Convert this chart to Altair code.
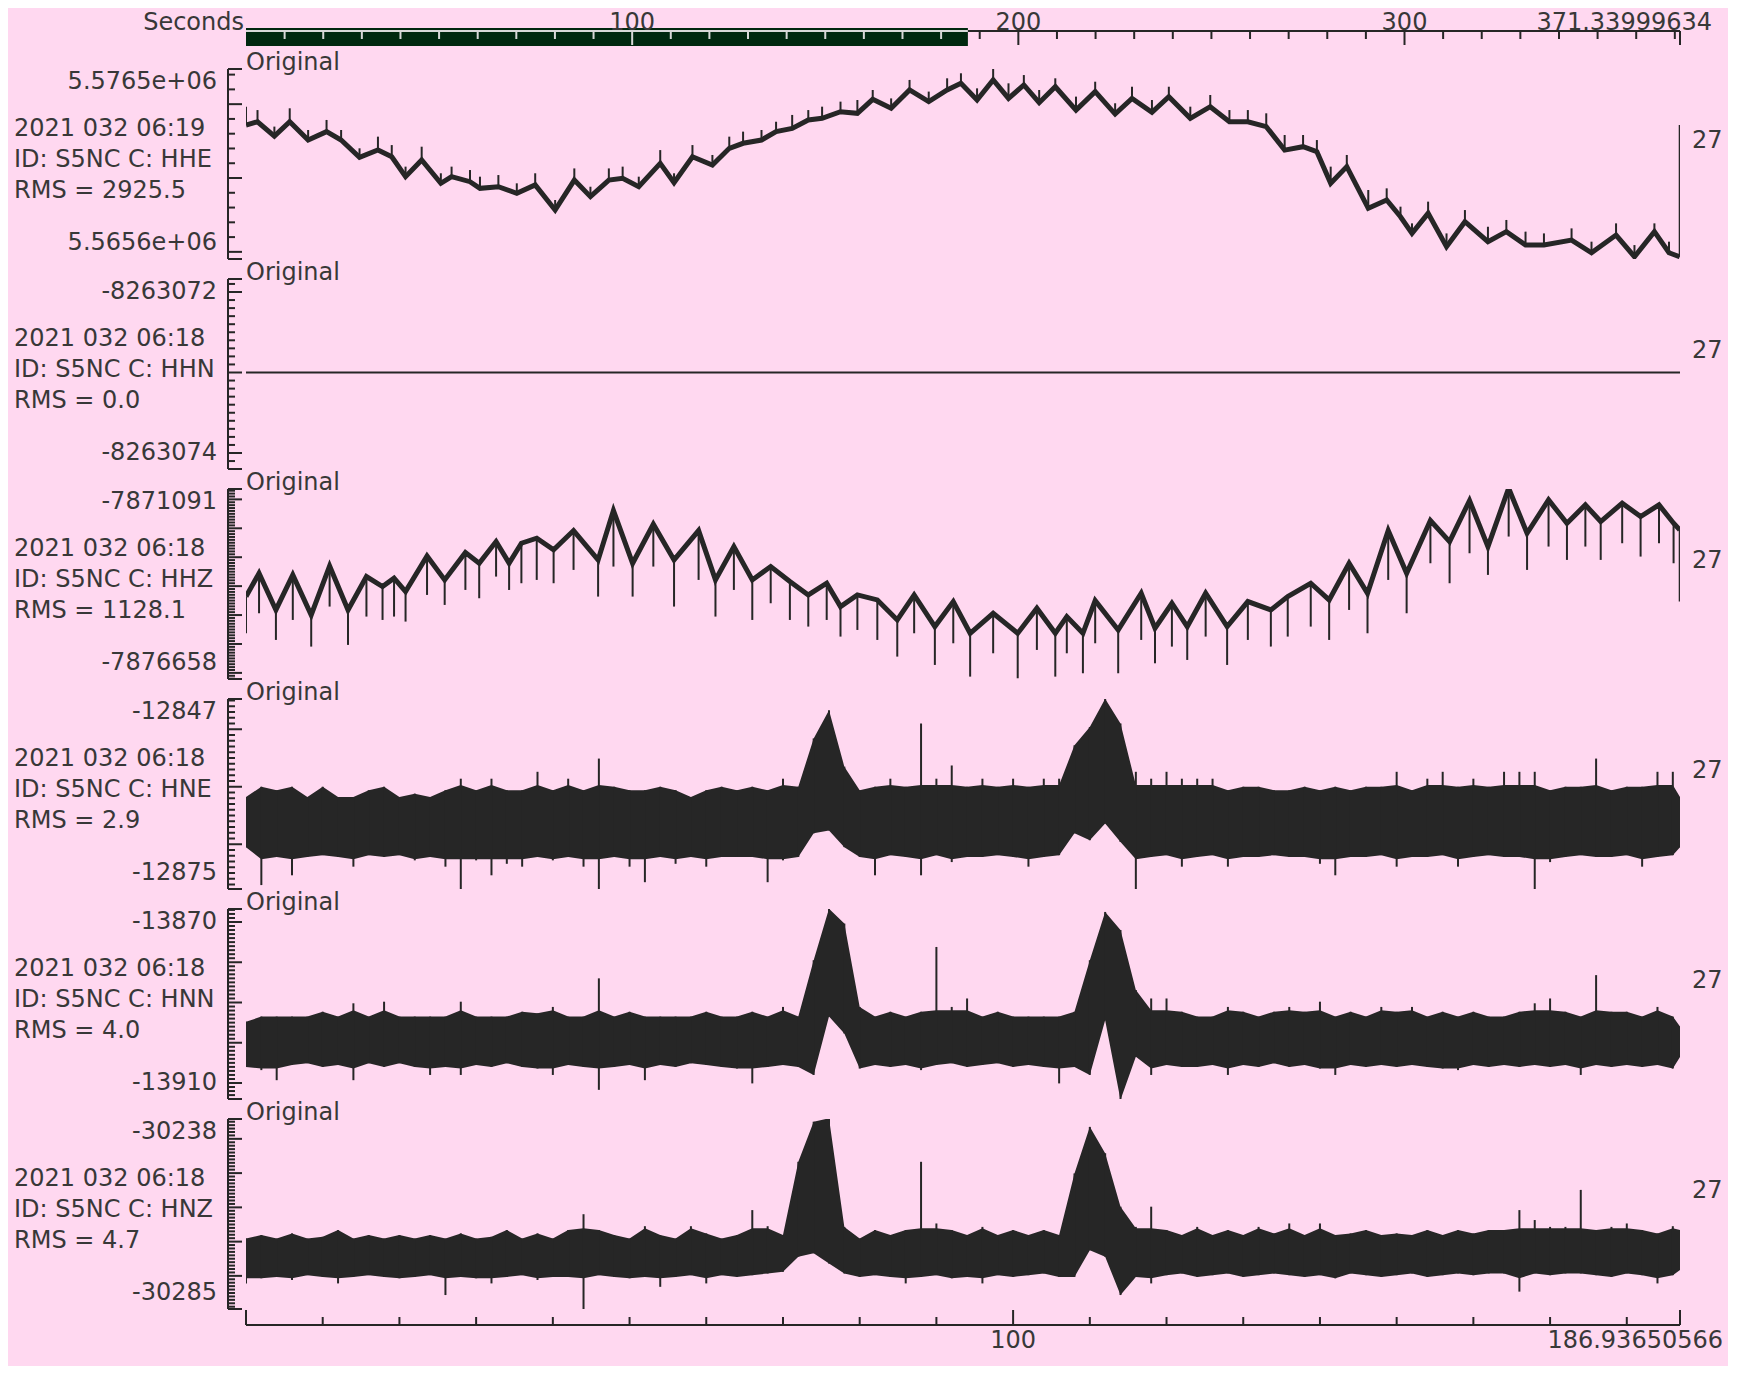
import altair as alt
import pandas as pd
import numpy as np

T_END = 186.93650566
OV_END = 371.33999634
PW, PH = 1434, 190

BG = "#FFD8F0"
INK = "#262626"
TXT = "#383838"
FONT = "DejaVu Sans"
FS = 24

# ---------------- panel metadata ----------------
CHANNELS = ["HHE", "HHN", "HHZ", "HNE", "HNN", "HNZ"]
STARTS = ["2021 032 06:19", "2021 032 06:18", "2021 032 06:18",
          "2021 032 06:18", "2021 032 06:18", "2021 032 06:18"]
RMS = ["2925.5", "0.0", "1128.1", "2.9", "4.0", "4.7"]
LABEL_TOP = ["5.5765e+06", "-8263072", "-7871091", "-12847", "-13870", "-30238"]
LABEL_TOP_V = [5576500, -8263072, -7871091, -12847, -13870, -30238]
LABEL_BOT = ["5.5656e+06", "-8263074", "-7876658", "-12875", "-13910", "-30285"]
LABEL_BOT_V = [5565600, -8263074, -7876658, -12875, -13910, -30285]
TICK_MINOR = [1000, 0.1, 100, 1, 1, 1]
TICK_MAJOR = [5000, 1, 1000, 10, 10, 10]
SCALE_NUM = ["27", "27", "27", "27", "27", "27"]

# ---------------- HHE ----------------
hhe_t = [0.0, 1.5, 3.7, 5.7, 8.1, 10.5, 12.4, 14.8, 17.2, 19.0,
         20.8, 22.9, 25.4, 26.8, 29.2, 30.5, 32.9, 35.3, 37.7, 40.3,
         42.8, 44.9, 47.3, 49.1, 51.2, 54.0, 55.8, 58.2, 60.8, 63.0,
         64.8, 67.2, 69.1, 71.2, 73.3, 75.1, 77.5, 79.7, 81.7, 84.1,
         86.5, 89.0, 91.4, 93.2, 95.3, 97.4, 99.4, 101.4, 103.4, 105.5,
         108.2, 110.7, 113.3, 115.5, 118.1, 120.3, 123.1, 125.7, 128.2, 130.6,
         133.0, 135.4, 137.8, 139.6, 141.4, 143.5, 146.3, 148.7, 150.5, 152.0,
         154.1, 156.5, 158.9, 161.9, 164.3, 166.8, 169.2, 172.8, 175.4, 178.6,
         181.0, 183.6, 185.5, 186.9]
hhe_base = [5573590, 5573810, 5572840, 5573810, 5572570, 5573140, 5572570, 5571400, 5571900, 5571440,
            5570090, 5571220, 5569640, 5570090, 5569750, 5569300, 5569410, 5568960, 5569530, 5567830,
            5569860, 5568740, 5569860, 5569980, 5569410, 5570990, 5569680, 5571440, 5570880, 5572010,
            5572350, 5572570, 5573140, 5573360, 5573930, 5574040, 5574490, 5574380, 5575330, 5574720,
            5575960, 5575170, 5575960, 5576410, 5575280, 5576640, 5575390, 5576300, 5575100, 5576180,
            5574600, 5575850, 5574330, 5575390, 5574450, 5575510, 5574040, 5574830, 5573810, 5573810,
            5573480, 5571890, 5572120, 5571780, 5569640, 5570770, 5567950, 5568510, 5567380, 5566250,
            5567610, 5565350, 5567040, 5565690, 5566370, 5565460, 5565460, 5565800, 5564940, 5566140,
            5564670, 5566370, 5564940, 5564670]
hhe_top = [5574830, 5574600, 5573480, 5574720, 5573250, 5573930, 5573250, 5572010, 5572800, 5572230,
           5570770, 5572120, 5570320, 5570770, 5570540, 5570090, 5570200, 5569640, 5570320, 5568510,
           5570650, 5569410, 5570650, 5570770, 5570090, 5571890, 5570320, 5572230, 5571560, 5572800,
           5573140, 5573250, 5573810, 5574270, 5574600, 5574830, 5575170, 5575280, 5575960, 5575390,
           5576640, 5575850, 5576750, 5577090, 5576070, 5577430, 5576410, 5576970, 5575960, 5576750,
           5575510, 5576520, 5575060, 5576180, 5575280, 5576180, 5574830, 5575620, 5574600, 5574600,
           5574380, 5572910, 5572910, 5572570, 5570770, 5571560, 5569190, 5569300, 5568060, 5566930,
           5568400, 5566250, 5567830, 5566700, 5567160, 5566370, 5566250, 5566590, 5565690, 5566930,
           5565460, 5566930, 5565690, 5573590]

# ---------------- HHN ----------------
hhn_t = [0.0, 186.94]
hhn_v = [-8263073, -8263073]

# ---------------- HHZ ----------------
hhz_t = [0.0, 1.7, 3.9, 6.1, 8.5, 10.9, 13.3, 15.7, 17.8, 19.3,
         20.8, 23.6, 25.9, 28.6, 30.4, 32.6, 34.3, 35.9, 37.9, 40.1,
         42.7, 45.9, 47.9, 50.4, 53.1, 55.8, 59.0, 61.2, 63.6, 66.0,
         68.4, 70.9, 73.3, 75.7, 77.5, 79.7, 82.3, 84.9, 87.1, 89.8,
         92.2, 94.4, 97.4, 100.6, 103.1, 105.5, 107.0, 109.1, 110.7, 113.7,
         116.7, 118.5, 120.7, 122.7, 125.1, 127.9, 130.6, 133.6, 135.8, 138.8,
         141.2, 143.8, 146.2, 148.9, 151.3, 154.4, 156.9, 159.5, 161.9, 164.6,
         167.0, 169.8, 172.2, 174.6, 176.6, 179.4, 181.8, 184.2, 186.1, 186.9]
hhz_ridge = [-7874362, -7873554, -7874823, -7873612, -7874996, -7873301, -7874823, -7873670, -7874016, -7873727,
             -7874189, -7872955, -7873785, -7872840, -7873209, -7872459, -7873209, -7872517, -7872344, -7872747,
             -7872079, -7873093, -7871387, -7873209, -7871860, -7873093, -7872079, -7873785, -7872632, -7873785,
             -7873324, -7873843, -7874304, -7873900, -7874707, -7874304, -7874477, -7875169, -7874304, -7875399,
             -7874534, -7875630, -7874938, -7875630, -7874765, -7875630, -7875053, -7875630, -7874500, -7875515,
             -7874246, -7875457, -7874592, -7875399, -7874246, -7875399, -7874534, -7874823, -7874362, -7873900,
             -7874477, -7873209, -7874246, -7872079, -7873554, -7871733, -7872459, -7871041, -7872632, -7870614,
             -7872171, -7871018, -7871825, -7871191, -7871767, -7871133, -7871594, -7871191, -7871825, -7872056]
hhz_low = [-7875630, -7874938, -7875860, -7875169, -7876091, -7874707, -7876033, -7875053, -7875169, -7875053,
           -7875226, -7874304, -7874650, -7874131, -7874419, -7873670, -7874131, -7873900, -7873785, -7873900,
           -7873439, -7874362, -7873324, -7874362, -7873324, -7874707, -7873785, -7875053, -7874131, -7875169,
           -7874592, -7875169, -7875399, -7875169, -7875745, -7875515, -7875860, -7876437, -7875630, -7876725,
           -7875976, -7877129, -7876322, -7877186, -7876206, -7877129, -7876322, -7877013, -7875976, -7877013,
           -7875860, -7876668, -7876091, -7876552, -7875745, -7876725, -7875860, -7876091, -7875745, -7875399,
           -7875860, -7874823, -7875630, -7873785, -7874938, -7873209, -7873900, -7872863, -7873612, -7872286,
           -7873439, -7872632, -7873093, -7872632, -7873093, -7872517, -7872978, -7872517, -7873209, -7874534]

# ---------------- strong-motion channels (2 s envelope) ----------------
noise_t = [0, 2, 4, 6, 8, 10, 12, 14, 16, 18,
           20, 22, 24, 26, 28, 30, 32, 34, 36, 38,
           40, 42, 44, 46, 48, 50, 52, 54, 56, 58,
           60, 62, 64, 66, 68, 70, 72, 74, 76, 78,
           80, 82, 84, 86, 88, 90, 92, 94, 96, 98,
           100, 102, 104, 106, 108, 110, 112, 114, 116, 118,
           120, 122, 124, 126, 128, 130, 132, 134, 136, 138,
           140, 142, 144, 146, 148, 150, 152, 154, 156, 158,
           160, 162, 164, 166, 168, 170, 172, 174, 176, 178,
           180, 182, 184, 186, 186.94]

# max / min in each 2 s window
hne_hi = [-12861.8, -12860.0, -12860.6, -12860.0, -12861.8, -12860.0, -12861.8, -12861.8, -12860.6, -12860.0,
          -12861.8, -12861.2, -12861.8, -12860.6, -12858.6, -12860.6, -12858.6, -12860.6, -12860.6, -12857.4,
          -12860.6, -12858.6, -12860.6, -12855.1, -12860.0, -12860.6, -12860.6, -12860.0, -12860.6, -12861.8,
          -12860.6, -12860.0, -12860.6, -12860.0, -12860.6, -12858.6, -12860.0, -12851.6, -12846.7, -12856.5,
          -12860.6, -12860.0, -12858.6, -12860.0, -12849.0, -12858.6, -12856.3, -12860.0, -12858.6, -12860.0,
          -12858.6, -12860.0, -12858.6, -12858.6, -12852.8, -12849.6, -12844.7, -12849.0, -12857.4, -12858.6,
          -12857.4, -12858.6, -12858.6, -12858.6, -12860.6, -12860.0, -12860.0, -12860.6, -12860.6, -12860.0,
          -12860.6, -12860.0, -12860.6, -12860.0, -12860.0, -12857.4, -12860.6, -12858.6, -12857.4, -12860.0,
          -12858.6, -12860.0, -12857.4, -12857.4, -12857.4, -12860.6, -12860.0, -12860.0, -12855.1, -12860.6,
          -12860.0, -12860.0, -12857.4, -12857.4, -12861.8]
hne_lo = [-12870.5, -12877.1, -12872.2, -12875.4, -12872.2, -12871.9, -12872.2, -12873.9, -12871.9, -12872.2,
          -12871.9, -12872.8, -12872.2, -12873.9, -12878.0, -12872.8, -12875.4, -12873.4, -12873.9, -12872.2,
          -12872.8, -12872.2, -12873.9, -12878.0, -12872.2, -12873.9, -12876.6, -12872.2, -12873.4, -12872.2,
          -12873.9, -12872.2, -12872.2, -12872.2, -12876.6, -12872.8, -12872.2, -12868.1, -12867.6, -12870.5,
          -12872.2, -12875.4, -12871.9, -12872.2, -12875.4, -12871.9, -12873.1, -12872.2, -12872.2, -12871.9,
          -12872.2, -12873.9, -12872.2, -12871.9, -12868.1, -12869.3, -12866.4, -12869.6, -12878.0, -12872.2,
          -12871.9, -12873.9, -12872.2, -12871.9, -12873.9, -12872.2, -12872.2, -12871.9, -12872.2, -12872.2,
          -12873.4, -12875.4, -12872.2, -12872.2, -12871.9, -12873.9, -12872.2, -12872.2, -12871.9, -12873.9,
          -12872.2, -12871.9, -12872.2, -12872.2, -12878.0, -12873.1, -12872.2, -12871.9, -12872.2, -12872.2,
          -12871.9, -12873.9, -12872.2, -12871.9, -12870.5]
hne_events = [37, 38, 39, 54, 55, 56, 57]
hne_cap = [-12859.7, -12872.6]      # edge of the dense body outside the events

hnn_hi = [-13894.8, -13893.5, -13893.5, -13893.5, -13893.5, -13892.3, -13893.5, -13890.2, -13893.5, -13889.8,
          -13893.5, -13893.5, -13893.5, -13893.5, -13889.8, -13893.5, -13893.5, -13893.5, -13892.3, -13892.7,
          -13891.1, -13893.5, -13893.5, -13884.0, -13893.5, -13892.3, -13893.5, -13893.5, -13893.5, -13893.5,
          -13892.3, -13893.5, -13893.5, -13892.3, -13893.5, -13891.1, -13893.5, -13879.5, -13866.7, -13870.4,
          -13891.1, -13893.5, -13892.3, -13893.5, -13892.3, -13876.2, -13891.1, -13889.0, -13893.5, -13892.3,
          -13893.5, -13893.5, -13893.5, -13893.5, -13892.3, -13879.5, -13867.5, -13872.0, -13886.9, -13889.0,
          -13889.0, -13892.3, -13893.5, -13893.5, -13891.1, -13892.3, -13893.5, -13892.3, -13891.1, -13892.3,
          -13889.8, -13893.5, -13892.3, -13893.5, -13891.1, -13892.3, -13891.1, -13893.5, -13892.3, -13893.5,
          -13892.3, -13893.5, -13893.5, -13892.3, -13890.2, -13889.0, -13892.3, -13893.5, -13883.2, -13892.3,
          -13892.3, -13893.5, -13891.1, -13893.5, -13896.0]
hnn_lo = [-13906.0, -13906.8, -13909.3, -13905.5, -13905.1, -13906.0, -13905.5, -13909.3, -13905.1, -13906.0,
          -13905.1, -13906.0, -13908.0, -13906.0, -13908.0, -13905.5, -13906.0, -13905.1, -13906.0, -13906.4,
          -13908.0, -13905.5, -13906.0, -13911.7, -13906.0, -13905.5, -13909.3, -13905.5, -13906.0, -13905.1,
          -13905.5, -13906.0, -13906.4, -13910.1, -13906.0, -13905.5, -13906.0, -13908.0, -13893.5, -13897.7,
          -13906.4, -13905.5, -13906.0, -13905.5, -13906.8, -13905.5, -13905.1, -13906.0, -13905.5, -13905.1,
          -13906.0, -13905.5, -13906.0, -13910.1, -13906.0, -13908.0, -13894.4, -13914.2, -13903.5, -13908.0,
          -13905.5, -13906.0, -13906.0, -13905.5, -13908.0, -13905.5, -13906.0, -13905.1, -13906.0, -13905.5,
          -13906.4, -13908.0, -13905.5, -13906.0, -13905.5, -13906.0, -13905.5, -13906.0, -13906.4, -13906.8,
          -13905.5, -13906.0, -13905.5, -13906.0, -13905.5, -13906.0, -13905.5, -13908.0, -13905.5, -13906.0,
          -13905.5, -13906.0, -13905.5, -13906.4, -13903.5]
hnn_events = [37, 38, 39, 40, 55, 56, 57, 58]
hnn_cap = [-13891.9, -13906.4]

hnz_hi = [-30269.1, -30268.1, -30269.1, -30267.6, -30269.1, -30268.6, -30266.6, -30269.1, -30268.1, -30269.1,
          -30268.1, -30269.1, -30268.1, -30269.1, -30267.6, -30269.1, -30268.6, -30266.6, -30269.1, -30267.6,
          -30269.1, -30266.6, -30262.0, -30266.6, -30268.1, -30269.1, -30265.5, -30268.1, -30269.1, -30265.5,
          -30267.6, -30269.1, -30268.1, -30260.8, -30265.5, -30268.1, -30246.7, -30235.0, -30234.0, -30265.7,
          -30269.1, -30266.6, -30268.1, -30266.6, -30246.7, -30264.7, -30266.6, -30268.1, -30265.7, -30268.1,
          -30266.6, -30268.1, -30266.6, -30268.1, -30250.1, -30236.5, -30244.2, -30259.8, -30265.7, -30259.8,
          -30266.6, -30268.1, -30265.7, -30268.1, -30266.6, -30268.1, -30265.7, -30267.6, -30264.7, -30268.1,
          -30264.7, -30268.1, -30267.6, -30266.6, -30268.1, -30267.6, -30268.1, -30266.6, -30268.1, -30266.6,
          -30267.6, -30266.6, -30266.6, -30260.8, -30263.7, -30265.7, -30265.7, -30254.9, -30266.6, -30265.7,
          -30264.7, -30266.6, -30267.6, -30265.5, -30266.6]
hnz_lo = [-30282.2, -30280.7, -30280.3, -30281.2, -30279.8, -30280.3, -30282.2, -30280.3, -30279.8, -30280.3,
          -30280.7, -30280.3, -30279.8, -30285.6, -30280.3, -30280.7, -30282.2, -30280.3, -30279.8, -30281.2,
          -30280.3, -30280.3, -30290.0, -30279.8, -30280.3, -30280.7, -30280.3, -30283.2, -30280.3, -30279.8,
          -30282.2, -30279.8, -30280.3, -30279.8, -30279.3, -30278.8, -30274.4, -30273.4, -30276.4, -30279.3,
          -30280.3, -30279.8, -30280.3, -30282.2, -30280.3, -30279.8, -30280.7, -30280.3, -30282.2, -30279.8,
          -30280.3, -30279.8, -30279.3, -30280.3, -30280.3, -30272.5, -30274.4, -30285.6, -30280.3, -30282.2,
          -30279.8, -30279.3, -30280.3, -30279.8, -30279.3, -30280.3, -30279.8, -30279.3, -30279.8, -30280.3,
          -30279.8, -30280.7, -30279.3, -30279.8, -30280.3, -30279.8, -30279.3, -30280.3, -30279.8, -30279.3,
          -30279.8, -30279.3, -30279.3, -30284.6, -30279.3, -30279.8, -30279.3, -30279.3, -30279.8, -30280.3,
          -30279.3, -30279.8, -30282.2, -30279.8, -30278.3]
hnz_events = [36, 37, 38, 39, 54, 55, 56, 57]
hnz_cap = [-30266.1, -30280.7]

# ---------------- time axes ----------------
ov_minor = [10, 20, 30, 40, 50, 60, 70, 80, 90, 110, 120, 130, 140, 150, 160, 170, 180, 190,
            210, 220, 230, 240, 250, 260, 270, 280, 290, 310, 320, 330, 340, 350, 360, 370]
ov_major = [100, 200, 300, OV_END]
ov_labels = ["100", "200", "300"]
bot_minor = [10, 20, 30, 40, 50, 60, 70, 80, 90, 110, 120, 130, 140, 150, 160, 170, 180]
bot_major = [0, 100, T_END]

ONE = pd.DataFrame({"k": [0]})
LAB_Y = -46


def txt(text, x, y, align="left", baseline="alphabetic"):
    return alt.Chart(ONE).mark_text(
        text=text, font=FONT, fontSize=FS, color=TXT, align=align, baseline=baseline
    ).encode(x=alt.value(x), y=alt.value(y))


def make_panel(i, trace_fn, extra=None, independent=False):
    L1, L2 = LABEL_TOP_V[i], LABEL_BOT_V[i]
    k = 161.0 / (L1 - L2)
    hi = L1 + 13.0 / k
    lo = L2 - 16.0 / k
    ysc = alt.Scale(domain=[lo, hi], nice=False, zero=False)
    xsc = alt.Scale(domain=[0, T_END], nice=False, zero=False)

    layers = []
    layers.append(alt.Chart(ONE).mark_rule(color=INK, strokeWidth=2).encode(
        x=alt.value(-18), y=alt.value(0), y2=alt.value(PH)))
    mn, mj = TICK_MINOR[i], TICK_MAJOR[i]
    start = np.ceil(lo / mn) * mn
    vals = np.arange(start, hi, mn)
    is_major = np.abs(vals / mj - np.round(vals / mj)) < 1e-6
    tdf = pd.DataFrame({"v": vals, "m": is_major})
    cap = pd.DataFrame({"v": [lo, hi]})
    layers.append(alt.Chart(tdf[~tdf.m]).mark_rule(color=INK, strokeWidth=2).encode(
        y=alt.Y("v:Q", scale=ysc, axis=None), x=alt.value(-18), x2=alt.value(-11)))
    layers.append(alt.Chart(pd.concat([tdf[tdf.m][["v"]], cap])).mark_rule(color=INK, strokeWidth=2).encode(
        y=alt.Y("v:Q", scale=ysc, axis=None), x=alt.value(-18), x2=alt.value(-4)))
    lab = pd.DataFrame({"v": [L1, L2], "label": [LABEL_TOP[i], LABEL_BOT[i]]})
    layers.append(alt.Chart(lab).mark_text(
        font=FONT, fontSize=FS, color=TXT, align="right", baseline="middle").encode(
        y=alt.Y("v:Q", scale=ysc, axis=None), x=alt.value(-29), text="label:N"))
    layers.append(txt("Original", 0, 1))
    layers.append(txt(STARTS[i], -232, 67))
    layers.append(txt("ID: S5NC C: " + CHANNELS[i], -232, 98))
    layers.append(txt("RMS = " + RMS[i], -232, 129))
    layers.append(txt(SCALE_NUM[i], PW + 12, 72, baseline="middle"))
    layers += trace_fn(xsc, ysc)
    if extra is not None:
        layers += extra()
    ch = alt.layer(*layers).properties(width=PW, height=PH)
    if independent:
        ch = ch.resolve_scale(x="independent")
    return ch


def X(xsc):
    return alt.X("t:Q", scale=xsc, axis=None)


def hhe_trace(xsc, ysc):
    df = pd.DataFrame({"t": hhe_t, "base": hhe_base, "top": hhe_top})
    line = alt.Chart(df).mark_line(color=INK, strokeWidth=5, clip=True).encode(
        x=X(xsc), y=alt.Y("base:Q", scale=ysc, axis=None))
    sp = alt.Chart(df).mark_rule(color=INK, strokeWidth=2, clip=True).encode(
        x=X(xsc), y=alt.Y("base:Q", scale=ysc, axis=None), y2="top:Q")
    return [line, sp]


def hhn_trace(xsc, ysc):
    df = pd.DataFrame({"t": hhn_t, "v": hhn_v})
    return [alt.Chart(df).mark_line(color=INK, strokeWidth=2, clip=True).encode(
        x=X(xsc), y=alt.Y("v:Q", scale=ysc, axis=None))]


def hhz_trace(xsc, ysc):
    df = pd.DataFrame({"t": hhz_t, "ridge": hhz_ridge, "low": hhz_low})
    line = alt.Chart(df).mark_line(color=INK, strokeWidth=5, clip=True).encode(
        x=X(xsc), y=alt.Y("ridge:Q", scale=ysc, axis=None))
    sp = alt.Chart(df).mark_rule(color=INK, strokeWidth=2, clip=True).encode(
        x=X(xsc), y=alt.Y("ridge:Q", scale=ysc, axis=None), y2="low:Q")
    return [line, sp]


def band_trace(hi, lo, events, caps):
    def fn(xsc, ysc):
        df = pd.DataFrame({"t": noise_t, "hi": hi, "lo": lo})
        ev = np.zeros(len(df), dtype=bool)
        ev[events] = True
        # dense body: the window extremes, with isolated hairline spikes left to the rules
        df["chi"] = np.where(ev, df["hi"], np.minimum(df["hi"], caps[0]))
        df["clo"] = np.where(ev, df["lo"], np.maximum(df["lo"], caps[1]))
        core = alt.Chart(df).mark_area(color=INK, opacity=1, clip=True).encode(
            x=X(xsc), y=alt.Y("clo:Q", scale=ysc, axis=None), y2="chi:Q")
        sp = alt.Chart(df).mark_rule(color=INK, strokeWidth=2, clip=True).encode(
            x=X(xsc), y=alt.Y("lo:Q", scale=ysc, axis=None), y2="hi:Q")
        return [core, sp]
    return fn


def overview():
    osc = alt.Scale(domain=[0, OV_END], nice=False, zero=False)
    win = pd.DataFrame({"s": [0.0], "e": [T_END]})
    L = []
    L.append(alt.Chart(ONE).mark_rule(color=INK, strokeWidth=2).encode(
        x=alt.value(0), x2=alt.value(PW), y=alt.value(-38)))
    L.append(alt.Chart(win).mark_rect(color="#00280F").encode(
        x=alt.X("s:Q", scale=osc, axis=None), x2="e:Q", y=alt.value(-41), y2=alt.value(-23)))
    L.append(alt.Chart(win).mark_rule(color="#D8D8D8", strokeWidth=2).encode(
        x=alt.X("s:Q", scale=osc, axis=None), x2="e:Q", y=alt.value(-38)))
    mdf = pd.DataFrame({"v": ov_minor})
    Mdf = pd.DataFrame({"v": ov_major})
    for df, y2 in ((mdf, -30), (Mdf, -24)):
        inside = df[df.v <= T_END]
        outside = df[df.v > T_END]
        if len(inside):
            L.append(alt.Chart(inside).mark_rule(color="#D8D8D8", strokeWidth=2).encode(
                x=alt.X("v:Q", scale=osc, axis=None), y=alt.value(-38), y2=alt.value(y2)))
        if len(outside):
            L.append(alt.Chart(outside).mark_rule(color=INK, strokeWidth=2).encode(
                x=alt.X("v:Q", scale=osc, axis=None), y=alt.value(-38), y2=alt.value(y2)))
    ldf = pd.DataFrame({"v": ov_major[:3], "label": ov_labels})
    L.append(alt.Chart(ldf).mark_text(font=FONT, fontSize=FS, color=TXT, align="center",
                                       baseline="middle").encode(
        x=alt.X("v:Q", scale=osc, axis=None), y=alt.value(LAB_Y), text="label:N"))
    edf = pd.DataFrame({"v": [OV_END], "label": ["371.33999634"]})
    L.append(alt.Chart(edf).mark_text(font=FONT, fontSize=FS, color=TXT, align="right",
                                       baseline="middle", dx=32).encode(
        x=alt.X("v:Q", scale=osc, axis=None), y=alt.value(LAB_Y), text="label:N"))
    L.append(txt("Seconds", -2, LAB_Y, align="right", baseline="middle"))
    return L


def bottom_axis():
    bsc = alt.Scale(domain=[0, T_END], nice=False, zero=False)
    L = []
    L.append(alt.Chart(ONE).mark_rule(color=INK, strokeWidth=2).encode(
        x=alt.value(0), x2=alt.value(PW), y=alt.value(206)))
    L.append(alt.Chart(pd.DataFrame({"v": bot_minor})).mark_rule(color=INK, strokeWidth=2).encode(
        x=alt.X("v:Q", scale=bsc, axis=None), y=alt.value(198), y2=alt.value(206)))
    L.append(alt.Chart(pd.DataFrame({"v": bot_major})).mark_rule(color=INK, strokeWidth=2).encode(
        x=alt.X("v:Q", scale=bsc, axis=None), y=alt.value(191), y2=alt.value(206)))
    L.append(alt.Chart(pd.DataFrame({"v": [100], "label": ["100"]})).mark_text(
        font=FONT, fontSize=FS, color=TXT, align="center", baseline="middle").encode(
        x=alt.X("v:Q", scale=bsc, axis=None), y=alt.value(222), text="label:N"))
    L.append(alt.Chart(pd.DataFrame({"v": [T_END], "label": ["186.93650566"]})).mark_text(
        font=FONT, fontSize=FS, color=TXT, align="right", baseline="middle", dx=43).encode(
        x=alt.X("v:Q", scale=bsc, axis=None), y=alt.value(222), text="label:N"))
    return L


panels = [
    make_panel(0, hhe_trace, extra=overview, independent=True),
    make_panel(1, hhn_trace),
    make_panel(2, hhz_trace),
    make_panel(3, band_trace(hne_hi, hne_lo, hne_events, hne_cap)),
    make_panel(4, band_trace(hnn_hi, hnn_lo, hnn_events, hnn_cap)),
    make_panel(5, band_trace(hnz_hi, hnz_lo, hnz_events, hnz_cap), extra=bottom_axis),
]

chart = alt.vconcat(*panels, spacing=20, bounds="flush").properties(
    background=BG,
    padding={"left": 6, "right": 5, "top": 3, "bottom": 13},
).configure_view(strokeWidth=0)

chart.save("out.html", embed_options={"renderer": "svg", "actions": False})
